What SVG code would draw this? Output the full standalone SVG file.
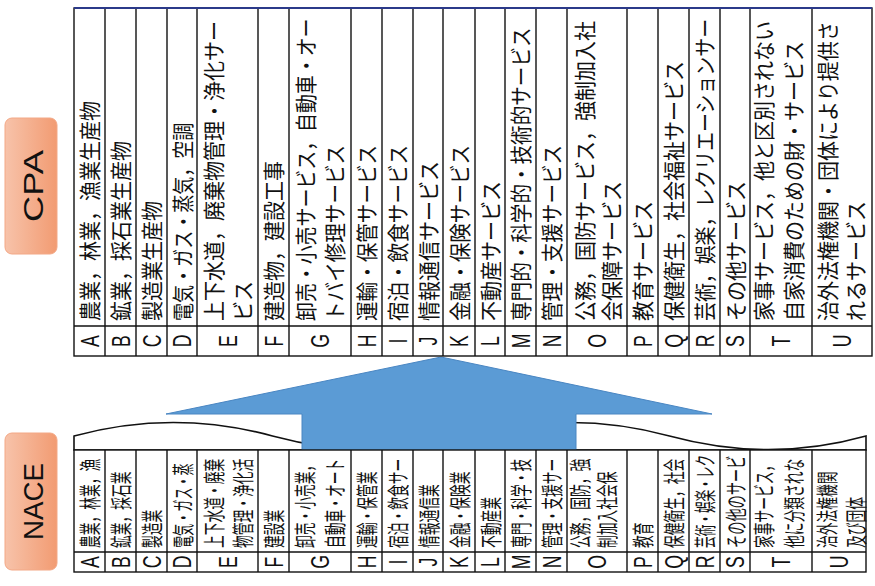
<svg xmlns="http://www.w3.org/2000/svg" width="875" height="586" viewBox="0 0 875 586">
<style>
.grid line,.grid rect{stroke:#111;stroke-width:1.4;fill:none}
.jp{font-family:"Noto Sans CJK JP","Noto Sans",sans-serif;font-size:22px;fill:#111}
.lt{font-family:"Liberation Sans",Arial,sans-serif;font-size:26px;fill:#111;text-anchor:middle}
.lbl{font-family:"Liberation Sans",Arial,sans-serif;font-size:28px;fill:#111;text-anchor:middle}
.box{fill:url(#og);stroke:#F3A886;stroke-width:1}
</style>
<defs>
<linearGradient id="og" x1="0" y1="0" x2="1" y2="0">
<stop offset="0" stop-color="#F7C3AA"/>
<stop offset="1" stop-color="#F29B72"/>
</linearGradient>
</defs>
<rect width="875" height="586" fill="#fff"/>

<g id="label-cpa">
<rect class="box" x="5" y="118" width="52" height="136" rx="7"/>
<text class="lbl" transform="translate(43,186) rotate(-90)" textLength="72" lengthAdjust="spacingAndGlyphs">CPA</text>
</g>
<g id="label-nace">
<rect class="box" x="5" y="433" width="52" height="137" rx="7"/>
<text class="lbl" transform="translate(43,501.5) rotate(-90)" textLength="77" lengthAdjust="spacingAndGlyphs">NACE</text>
</g>

<g id="nace-wave">
<path d="M74,450 V436 C140.2,418 206.3,418 272.5,436 C338.7,454 404.8,454 471,436 C537.2,418 603.3,418 669.5,436 C735.7,454 801.8,454 866,436 V450 Z" fill="#fff" stroke="#111" stroke-width="1.6"/>
</g>

<g id="connectors">
<polygon points="441,357 712,414 576,414 576,450 302,450 302,414 166,414" fill="#5B9BD5" stroke="#4A86C2" stroke-width="1"/>
</g>

<g class="grid" id="cpa-grid">
<rect x="74" y="8" width="798" height="348" style="fill:#fff"/>
<line x1="74" y1="326" x2="872" y2="326"/>
<line x1="105" y1="8" x2="105" y2="356"/><line x1="136" y1="8" x2="136" y2="356"/><line x1="167" y1="8" x2="167" y2="356"/><line x1="197" y1="8" x2="197" y2="356"/><line x1="258" y1="8" x2="258" y2="356"/><line x1="289" y1="8" x2="289" y2="356"/><line x1="351" y1="8" x2="351" y2="356"/><line x1="382" y1="8" x2="382" y2="356"/><line x1="413" y1="8" x2="413" y2="356"/><line x1="443" y1="8" x2="443" y2="356"/><line x1="475" y1="8" x2="475" y2="356"/><line x1="505" y1="8" x2="505" y2="356"/><line x1="536" y1="8" x2="536" y2="356"/><line x1="567" y1="8" x2="567" y2="356"/><line x1="627" y1="8" x2="627" y2="356"/><line x1="658" y1="8" x2="658" y2="356"/><line x1="689" y1="8" x2="689" y2="356"/><line x1="720" y1="8" x2="720" y2="356"/><line x1="750" y1="8" x2="750" y2="356"/><line x1="812" y1="8" x2="812" y2="356"/>
<line x1="74" y1="8" x2="872" y2="8" style="stroke:#2B3A8A;stroke-width:2"/>
</g>

<g class="grid" id="nace-grid">
<rect x="74" y="450" width="792" height="122" style="fill:#fff"/>
<line x1="74" y1="552" x2="866" y2="552"/>
<line x1="105" y1="450" x2="105" y2="572"/><line x1="136" y1="450" x2="136" y2="572"/><line x1="167" y1="450" x2="167" y2="572"/><line x1="197" y1="450" x2="197" y2="572"/><line x1="258" y1="450" x2="258" y2="572"/><line x1="289" y1="450" x2="289" y2="572"/><line x1="351" y1="450" x2="351" y2="572"/><line x1="382" y1="450" x2="382" y2="572"/><line x1="413" y1="450" x2="413" y2="572"/><line x1="443" y1="450" x2="443" y2="572"/><line x1="475" y1="450" x2="475" y2="572"/><line x1="505" y1="450" x2="505" y2="572"/><line x1="536" y1="450" x2="536" y2="572"/><line x1="567" y1="450" x2="567" y2="572"/><line x1="627" y1="450" x2="627" y2="572"/><line x1="658" y1="450" x2="658" y2="572"/><line x1="689" y1="450" x2="689" y2="572"/><line x1="720" y1="450" x2="720" y2="572"/><line x1="750" y1="450" x2="750" y2="572"/><line x1="812" y1="450" x2="812" y2="572"/>
</g>

<g id="cpa-A"><text class="lt" transform="translate(98.8,341) rotate(-90) scale(0.68,1)">A</text><text class="jp" transform="translate(98,321) rotate(-90) scale(0.91,1)">農業，林業，漁業生産物</text></g>
<g id="cpa-B"><text class="lt" transform="translate(129.8,341) rotate(-90) scale(0.68,1)">B</text><text class="jp" transform="translate(129,321) rotate(-90) scale(0.91,1)">鉱業，採石業生産物</text></g>
<g id="cpa-C"><text class="lt" transform="translate(160.8,341) rotate(-90) scale(0.68,1)">C</text><text class="jp" transform="translate(160,321) rotate(-90) scale(0.91,1)">製造業生産物</text></g>
<g id="cpa-D"><text class="lt" transform="translate(191.3,341) rotate(-90) scale(0.68,1)">D</text><text class="jp" transform="translate(190.5,321) rotate(-90) scale(0.82,1)">電気・ガス・蒸気，空調</text></g>
<g id="cpa-E"><text class="lt" transform="translate(236.8,341) rotate(-90) scale(0.68,1)">E</text><text class="jp" transform="translate(222.4,321) rotate(-90) scale(0.91,1)">上下水道，廃棄物管理・浄化サー</text><text class="jp" transform="translate(251.4,321) rotate(-90) scale(0.91,1)">ビス</text></g>
<g id="cpa-F"><text class="lt" transform="translate(282.8,341) rotate(-90) scale(0.68,1)">F</text><text class="jp" transform="translate(282,321) rotate(-90) scale(0.91,1)">建造物，建設工事</text></g>
<g id="cpa-G"><text class="lt" transform="translate(329.3,341) rotate(-90) scale(0.68,1)">G</text><text class="jp" transform="translate(313.9,321) rotate(-90) scale(0.86,1)">卸売・小売サービス，自動車・オー</text><text class="jp" transform="translate(343.4,321) rotate(-90) scale(0.89,1)">トバイ修理サービス</text></g>
<g id="cpa-H"><text class="lt" transform="translate(375.8,341) rotate(-90) scale(0.68,1)">H</text><text class="jp" transform="translate(375,321) rotate(-90) scale(0.89,1)">運輸・保管サービス</text></g>
<g id="cpa-I"><text class="lt" transform="translate(406.8,341) rotate(-90) scale(0.68,1)">I</text><text class="jp" transform="translate(406,321) rotate(-90) scale(0.89,1)">宿泊・飲食サービス</text></g>
<g id="cpa-J"><text class="lt" transform="translate(437.3,341) rotate(-90) scale(0.68,1)">J</text><text class="jp" transform="translate(436.5,321) rotate(-90) scale(0.91,1)">情報通信サービス</text></g>
<g id="cpa-K"><text class="lt" transform="translate(468.3,341) rotate(-90) scale(0.68,1)">K</text><text class="jp" transform="translate(467.5,321) rotate(-90) scale(0.89,1)">金融・保険サービス</text></g>
<g id="cpa-L"><text class="lt" transform="translate(499.3,341) rotate(-90) scale(0.68,1)">L</text><text class="jp" transform="translate(498.5,321) rotate(-90) scale(0.91,1)">不動産サービス</text></g>
<g id="cpa-M"><text class="lt" transform="translate(529.8,341) rotate(-90) scale(0.68,1)">M</text><text class="jp" transform="translate(529,321) rotate(-90) scale(0.89,1)">専門的・科学的・技術的サービス</text></g>
<g id="cpa-N"><text class="lt" transform="translate(560.8,341) rotate(-90) scale(0.68,1)">N</text><text class="jp" transform="translate(560,321) rotate(-90) scale(0.89,1)">管理・支援サービス</text></g>
<g id="cpa-O"><text class="lt" transform="translate(606.3,341) rotate(-90) scale(0.68,1)">O</text><text class="jp" transform="translate(593.4,321) rotate(-90) scale(0.91,1)">公務，国防サービス，強制加入社</text><text class="jp" transform="translate(620.4,321) rotate(-90) scale(0.91,1)">会保障サービス</text></g>
<g id="cpa-P"><text class="lt" transform="translate(651.8,341) rotate(-90) scale(0.68,1)">P</text><text class="jp" transform="translate(651,321) rotate(-90) scale(0.91,1)">教育サービス</text></g>
<g id="cpa-Q"><text class="lt" transform="translate(682.8,341) rotate(-90) scale(0.68,1)">Q</text><text class="jp" transform="translate(682,321) rotate(-90) scale(0.91,1)">保健衛生，社会福祉サービス</text></g>
<g id="cpa-R"><text class="lt" transform="translate(713.8,341) rotate(-90) scale(0.68,1)">R</text><text class="jp" transform="translate(713,321) rotate(-90) scale(0.86,1)">芸術，娯楽，レクリエーションサー</text></g>
<g id="cpa-S"><text class="lt" transform="translate(744.3,341) rotate(-90) scale(0.68,1)">S</text><text class="jp" transform="translate(743.5,321) rotate(-90) scale(0.91,1)">その他サービス</text></g>
<g id="cpa-T"><text class="lt" transform="translate(790.3,341) rotate(-90) scale(0.68,1)">T</text><text class="jp" transform="translate(772.4,321) rotate(-90) scale(0.91,1)">家事サービス，他と区別されない</text><text class="jp" transform="translate(802.4,321) rotate(-90) scale(0.91,1)">自家消費のための財・サービス</text></g>
<g id="cpa-U"><text class="lt" transform="translate(851.3,341) rotate(-90) scale(0.68,1)">U</text><text class="jp" transform="translate(836.4,321) rotate(-90) scale(0.91,1)">治外法権機関・団体により提供さ</text><text class="jp" transform="translate(864.4,321) rotate(-90) scale(0.91,1)">れるサービス</text></g>

<g id="nace-A"><text class="lt" transform="translate(98.8,562) rotate(-90) scale(0.68,1)">A</text><text class="jp" transform="translate(98,548) rotate(-90) scale(0.58,1)">農業，林業，漁</text></g>
<g id="nace-B"><text class="lt" transform="translate(129.8,562) rotate(-90) scale(0.68,1)">B</text><text class="jp" transform="translate(129,548) rotate(-90) scale(0.58,1)">鉱業，採石業</text></g>
<g id="nace-C"><text class="lt" transform="translate(160.8,562) rotate(-90) scale(0.68,1)">C</text><text class="jp" transform="translate(160,548) rotate(-90) scale(0.58,1)">製造業</text></g>
<g id="nace-D"><text class="lt" transform="translate(191.3,562) rotate(-90) scale(0.68,1)">D</text><text class="jp" transform="translate(190.5,548) rotate(-90) scale(0.55,1)">電気・ガス・蒸</text></g>
<g id="nace-E"><text class="lt" transform="translate(236.8,562) rotate(-90) scale(0.68,1)">E</text><text class="jp" transform="translate(222.4,548) rotate(-90) scale(0.58,1)">上下水道・廃棄</text><text class="jp" transform="translate(251.4,548) rotate(-90) scale(0.58,1)">物管理・浄化活</text></g>
<g id="nace-F"><text class="lt" transform="translate(282.8,562) rotate(-90) scale(0.68,1)">F</text><text class="jp" transform="translate(282,548) rotate(-90) scale(0.58,1)">建設業</text></g>
<g id="nace-G"><text class="lt" transform="translate(329.3,562) rotate(-90) scale(0.68,1)">G</text><text class="jp" transform="translate(313.4,548) rotate(-90) scale(0.58,1)">卸売・小売業，</text><text class="jp" transform="translate(343.4,548) rotate(-90) scale(0.58,1)">自動車・オート</text></g>
<g id="nace-H"><text class="lt" transform="translate(375.8,562) rotate(-90) scale(0.68,1)">H</text><text class="jp" transform="translate(375,548) rotate(-90) scale(0.58,1)">運輸・保管業</text></g>
<g id="nace-I"><text class="lt" transform="translate(406.8,562) rotate(-90) scale(0.68,1)">I</text><text class="jp" transform="translate(406,548) rotate(-90) scale(0.58,1)">宿泊・飲食サー</text></g>
<g id="nace-J"><text class="lt" transform="translate(437.3,562) rotate(-90) scale(0.68,1)">J</text><text class="jp" transform="translate(436.5,548) rotate(-90) scale(0.58,1)">情報通信業</text></g>
<g id="nace-K"><text class="lt" transform="translate(468.3,562) rotate(-90) scale(0.68,1)">K</text><text class="jp" transform="translate(467.5,548) rotate(-90) scale(0.58,1)">金融・保険業</text></g>
<g id="nace-L"><text class="lt" transform="translate(499.3,562) rotate(-90) scale(0.68,1)">L</text><text class="jp" transform="translate(498.5,548) rotate(-90) scale(0.58,1)">不動産業</text></g>
<g id="nace-M"><text class="lt" transform="translate(529.8,562) rotate(-90) scale(0.68,1)">M</text><text class="jp" transform="translate(529,548) rotate(-90) scale(0.58,1)">専門・科学・技</text></g>
<g id="nace-N"><text class="lt" transform="translate(560.8,562) rotate(-90) scale(0.68,1)">N</text><text class="jp" transform="translate(560,548) rotate(-90) scale(0.58,1)">管理・支援サー</text></g>
<g id="nace-O"><text class="lt" transform="translate(606.3,562) rotate(-90) scale(0.68,1)">O</text><text class="jp" transform="translate(588.4,548) rotate(-90) scale(0.58,1)">公務，国防，強</text><text class="jp" transform="translate(615.4,548) rotate(-90) scale(0.58,1)">制加入社会保</text></g>
<g id="nace-P"><text class="lt" transform="translate(651.8,562) rotate(-90) scale(0.68,1)">P</text><text class="jp" transform="translate(651,548) rotate(-90) scale(0.58,1)">教育</text></g>
<g id="nace-Q"><text class="lt" transform="translate(682.8,562) rotate(-90) scale(0.68,1)">Q</text><text class="jp" transform="translate(682,548) rotate(-90) scale(0.58,1)">保健衛生，社会</text></g>
<g id="nace-R"><text class="lt" transform="translate(713.8,562) rotate(-90) scale(0.68,1)">R</text><text class="jp" transform="translate(713,548) rotate(-90) scale(0.53,1)">芸術・娯楽・レク</text></g>
<g id="nace-S"><text class="lt" transform="translate(744.3,562) rotate(-90) scale(0.68,1)">S</text><text class="jp" transform="translate(743.5,548) rotate(-90) scale(0.6,1)">その他のサービ</text></g>
<g id="nace-T"><text class="lt" transform="translate(790.3,562) rotate(-90) scale(0.68,1)">T</text><text class="jp" transform="translate(772.4,548) rotate(-90) scale(0.58,1)">家事サービス，</text><text class="jp" transform="translate(802.4,548) rotate(-90) scale(0.58,1)">他に分類されな</text></g>
<g id="nace-U"><text class="lt" transform="translate(848.3,562) rotate(-90) scale(0.68,1)">U</text><text class="jp" transform="translate(835.4,548) rotate(-90) scale(0.58,1)">治外法権機関</text><text class="jp" transform="translate(864.4,548) rotate(-90) scale(0.58,1)">及び団体</text></g>
</svg>
